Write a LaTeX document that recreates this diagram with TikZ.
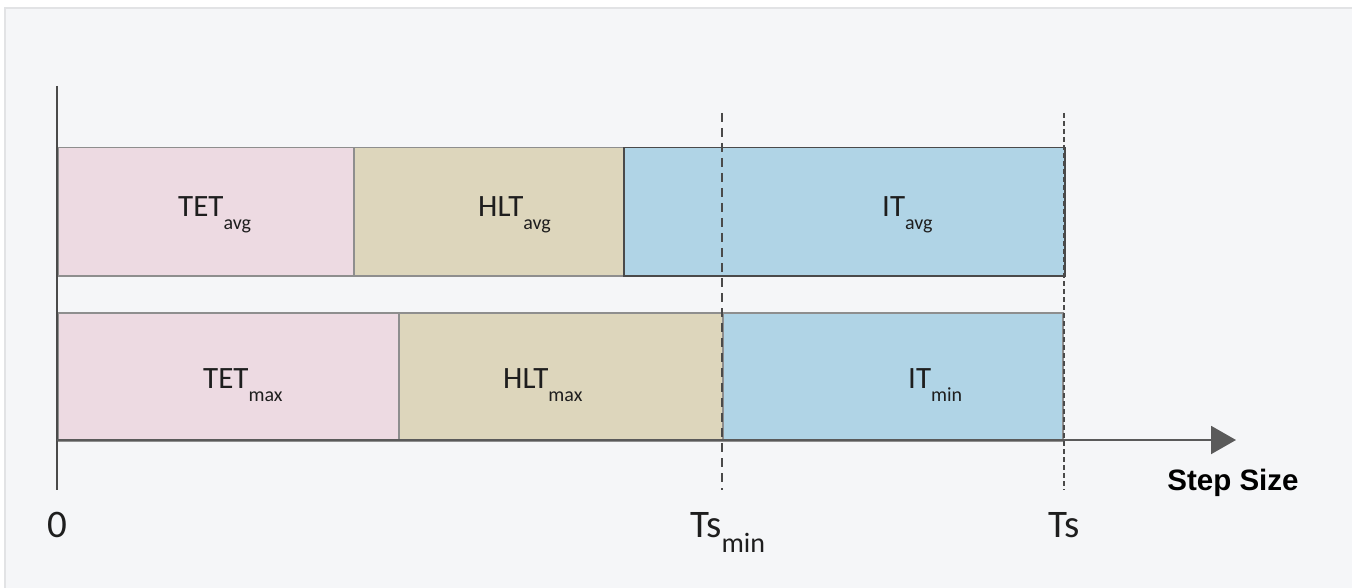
\documentclass[tikz,border=0pt]{standalone}
\usepackage{fontspec}
\setmainfont{Carlito}
\newfontfamily\arialfont{Liberation Sans}
\usetikzlibrary{arrows.meta}
\definecolor{bgc}{HTML}{F5F6F8}
\definecolor{framec}{HTML}{E2E3E5}
\definecolor{pinkc}{HTML}{EDDAE2}
\definecolor{tanc}{HTML}{DDD6BC}
\definecolor{bluec}{HTML}{B0D4E6}
\definecolor{edgec}{HTML}{8E8E8E}
\definecolor{darkedge}{HTML}{4A4A4A}
\definecolor{axisc}{HTML}{5A5A5A}
\definecolor{txtc}{HTML}{1E1E1E}
\newcommand\boxsub[1]{\raisebox{-13pt}{\fontsize{20}{20}\selectfont #1}}
\newcommand\ticksub[1]{\raisebox{-15pt}{\fontsize{28}{28}\selectfont #1}}
\tikzset{
  barbox/.style={draw=edgec, line width=1.5pt, anchor=north west, inner sep=0pt, minimum height=128pt},
  boxlab/.style={anchor=base west, inner sep=0pt, text=txtc, font=\fontsize{31}{31}\selectfont},
  ticklab/.style={inner sep=0pt, text=txtc, font=\fontsize{39}{39}\selectfont},
  guide/.style={draw=darkedge, line width=1.6pt},
  axisline/.style={draw=axisc, line width=2pt}
}
\begin{document}
\begin{tikzpicture}[x=1pt,y=-1pt]
\useasboundingbox (0,0) rectangle (1352,588);
\fill[white] (0,0) rectangle (1352,588);
\fill[bgc] (5,8) rectangle (1352,588);
\draw[framec, line width=2pt] (5,588) -- (5,8) -- (1352,8);
% bars, top row
\node[barbox, fill=pinkc, minimum width=296pt] (tetavg) at (57,147) {};
\node[barbox, fill=tanc, minimum width=270pt] (hltavg) at (353,147) {};
\node[barbox, fill=bluec, draw=darkedge, minimum width=441pt] (itavg) at (623,147) {};
% bars, bottom row
\node[barbox, fill=pinkc, minimum width=341pt] (tetmax) at (57,312) {};
\node[barbox, fill=tanc, minimum width=324pt] (hltmax) at (398,312) {};
\node[barbox, fill=bluec, minimum width=340pt] (itmin) at (722,312) {};
% labels
\node[boxlab] (tetavgL) at (178,217) {TET\boxsub{avg}};
\node[boxlab] (hltavgL) at (478,217) {HLT\boxsub{avg}};
\node[boxlab] (itavgL) at (882,217) {IT\boxsub{avg}};
\node[boxlab] (tetmaxL) at (203,388) {TET\boxsub{max}};
\node[boxlab] (hltmaxL) at (503,388) {HLT\boxsub{max}};
\node[boxlab] (itminL) at (908,388) {IT\boxsub{min}};
% guides
\coordinate (g1top) at (722,113);
\coordinate (g1bot) at (722,490);
\coordinate (g2top) at (1064,113);
\coordinate (g2bot) at (1064,490);
\draw[guide, dash pattern=on 9pt off 6pt] (g1top) -- (g1bot);
\draw[guide, dash pattern=on 5pt off 3pt] (g2top) -- (g2bot);
% axes
\coordinate (ytop) at (57,86);
\coordinate (ybot) at (57,490);
\coordinate (origin) at (57,440);
\coordinate (xend) at (1236,440);
\draw[axisline, draw=darkedge] (ytop) -- (ybot);
\draw[axisline, -{Triangle[length=25pt,width=28pt]}, color=axisc] (origin) -- (xend);
% tick labels
\node[ticklab, anchor=base] (zero) at (57,537) {0};
\node[ticklab, anchor=base west] (tsmin) at (690,537) {Ts\ticksub{min}};
\node[ticklab, anchor=base] (ts) at (1064,537) {Ts};
\node[inner sep=0pt, anchor=base, font=\arialfont\bfseries\fontsize{29.5}{29.5}\selectfont, text=black] (stepsize) at (1233,490) {Step Size};
\end{tikzpicture}
\end{document}
